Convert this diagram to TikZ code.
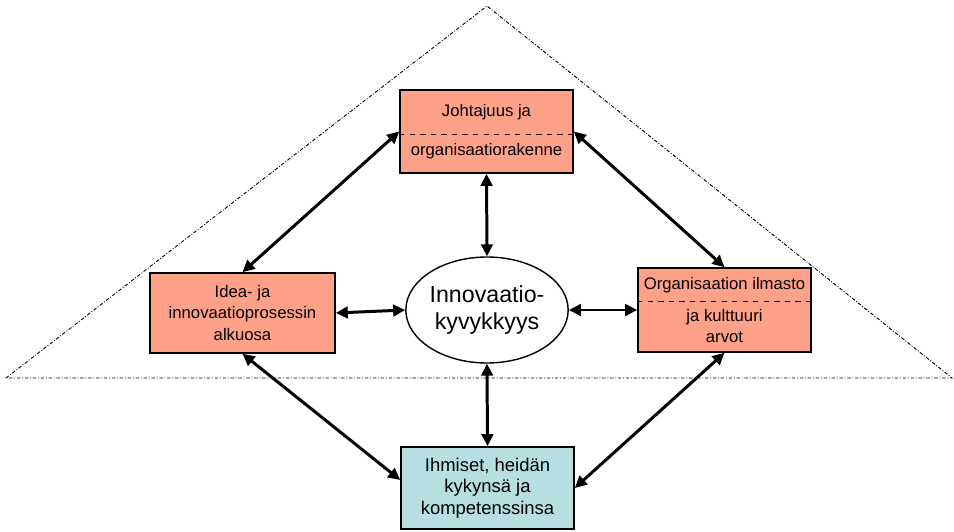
\documentclass[tikz,border=0pt]{standalone}
\usepackage{fontspec}
\setmainfont{Liberation Sans}
\usetikzlibrary{arrows.meta, positioning, shapes.geometric}
\definecolor{boxred}{RGB}{255,160,137}
\definecolor{boxblue}{RGB}{183,222,224}
\tikzset{
    rbox/.style={rectangle, draw, line width=0.9pt, fill=boxred, minimum width=3.46cm, minimum height=1.66cm, align=center, inner sep=0pt, font=\fontsize{9.5}{12}\selectfont},
    bbox/.style={rbox, fill=boxblue, font=\fontsize{10.5}{12.2}\selectfont},
    enode/.style={ellipse, draw, line width=0.8pt, fill=white, minimum width=3.2cm, minimum height=2.12cm, align=center, inner sep=0pt, font=\fontsize{13.2}{15.5}\selectfont},
    link/.style={line width=1.7pt, {Triangle[length=2.4mm, width=2.3mm]}-{Triangle[length=2.4mm, width=2.3mm]}},
    split/.style={dashed, line width=0.5pt},
    frame/.style={line width=0.5pt, dash pattern=on 2pt off 1pt on 0.5pt off 1pt},
}

\begin{document}
\begin{tikzpicture}
    \useasboundingbox (0,0) rectangle (19.08,10.62);

    % Outer triangle
    \draw[frame] (0.12,3.06) -- (9.74,10.50) -- (19.04,3.06) -- cycle;

    % Boxes round the centre
    \node[rbox] (top) at (9.73, 7.99) {Johtajuus ja\\[10pt]organisaatiorakenne};
    \node[rbox, minimum width=3.7cm, minimum height=1.6cm] (left) at (4.85, 4.36) {Idea- ja\\innovaatioprosessin\\alkuosa};
    \node[rbox, minimum height=1.68cm] (right) at (14.49, 4.42) {Organisaation ilmasto\\[6pt]ja kulttuuri\\arvot};
    \node[bbox, minimum height=1.64cm] (bot) at (9.75, 0.86) {Ihmiset, heidän\\kykynsä ja\\kompetenssinsa};
    \node[enode] (core) at (9.74, 4.42) {Innovaatio-\\kyvykkyys};

    % Dashed dividers
    \draw[split] ([yshift=-0.05cm]top.west) -- ([yshift=-0.05cm]top.east);
    \draw[split] ([yshift=0.18cm]right.west) -- ([yshift=0.18cm]right.east);

    % Arrows
    \draw[link] (top.west) -- (left.north);
    \draw[link] (top.east) -- (right.north);
    \draw[link] (top.south) -- (core.north);
    \draw[link] (left.east) -- (core.west);
    \draw[link] (core.east) -- (right.west);
    \draw[link] (core.south) -- (bot.north);
    \draw[link] (left.south) -- ([yshift=0.16cm]bot.west);
    \draw[link] (right.south) -- (bot.east);
\end{tikzpicture}
\end{document}
